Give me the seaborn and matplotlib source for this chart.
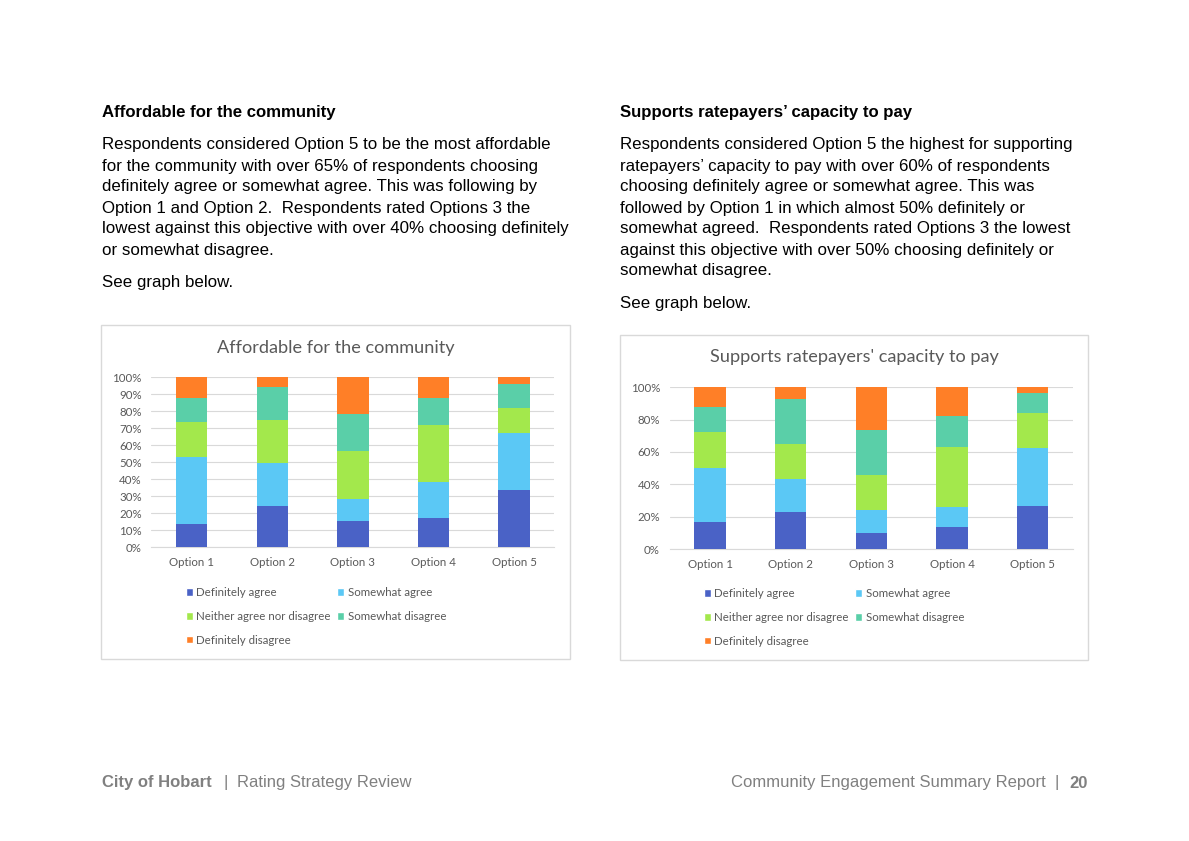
import numpy as np
import matplotlib
matplotlib.use('Agg')
import matplotlib.pyplot as plt
from matplotlib.patches import Rectangle, Patch
import seaborn as sns

# ───────────────────────────────────────────────
# Data (percent of respondents)
# ───────────────────────────────────────────────
options = ['Option 1', 'Option 2', 'Option 3', 'Option 4', 'Option 5']
responses = ['Definitely agree', 'Somewhat agree', 'Neither agree nor disagree',
             'Somewhat disagree', 'Definitely disagree']
colors = ['#4A62C6', '#5BC8F5', '#A3E84C', '#5ACFA8', '#FF7F27']

# Affordable for the community
aff_def_agree = [13.5, 24.3, 15.5, 17.1, 33.7]
aff_some_agree = [39.4, 25.5, 12.7, 21.1, 33.8]
aff_neither = [21.0, 25.1, 28.7, 33.6, 14.5]
aff_some_dis = [13.7, 19.6, 21.3, 15.8, 14.1]
aff_def_dis = [12.4, 5.5, 21.8, 12.4, 3.9]

# Supports ratepayers' capacity to pay
cap_def_agree = [16.9, 22.9, 10.1, 13.8, 26.4]
cap_some_agree = [33.0, 20.6, 14.2, 12.4, 36.1]
cap_neither = [22.5, 21.4, 21.3, 37.1, 21.4]
cap_some_dis = [15.4, 28.1, 28.0, 19.0, 12.4]
cap_def_dis = [12.2, 7.0, 26.4, 17.7, 3.7]

left_heading = 'Affordable for the community'
left_lines = [
    'Respondents considered Option 5 to be the most affordable',
    'for the community with over 65% of respondents choosing',
    'definitely agree or somewhat agree. This was following by',
    'Option 1 and Option 2.  Respondents rated Options 3 the',
    'lowest against this objective with over 40% choosing definitely',
    'or somewhat disagree.',
]
right_heading = 'Supports ratepayers\u2019 capacity to pay'
right_lines = [
    'Respondents considered Option 5 the highest for supporting',
    'ratepayers\u2019 capacity to pay with over 60% of respondents',
    'choosing definitely agree or somewhat agree. This was',
    'followed by Option 1 in which almost 50% definitely or',
    'somewhat agreed.  Respondents rated Options 3 the lowest',
    'against this objective with over 50% choosing definitely or',
    'somewhat disagree.',
]

# ───────────────────────────────────────────────
# Figure setup
# ───────────────────────────────────────────────
sns.set_style('white')
plt.rcParams['font.family'] = ['Liberation Sans', 'DejaVu Sans']

W, H = 1189, 841
fig = plt.figure(figsize=(W / 100, H / 100), dpi=100)
fig.patch.set_facecolor('white')


def fx(px):
    return px / W


def fy(py):
    return 1 - py / H


body_size = 12.15
text_col = '#000000'

# Body text blocks
def text_block(x, heading, lines, y0):
    fig.text(fx(x), fy(113), heading, fontsize=body_size - 0.1, fontweight='bold',
             color=text_col, va='center')
    for i, ln in enumerate(lines):
        fig.text(fx(x), fy(y0 + 21 * i), ln, fontsize=body_size, color=text_col, va='center')
    fig.text(fx(x), fy(y0 + 21 * len(lines) + 12), 'See graph below.',
             fontsize=body_size, color=text_col, va='center')


text_block(102, left_heading, left_lines, 145)
text_block(620, right_heading, right_lines, 145)

# ───────────────────────────────────────────────
# Charts
# ───────────────────────────────────────────────
chart_font = ['Lato', 'DejaVu Sans']
grey = '#595959'
grid_col = '#D9D9D9'
tick_size = 8.3


def stacked_chart(ax_rect, box, title, title_y, layers, step, legend_pos):
    # outer chart frame
    bx0, by0, bx1, by1 = box
    fig.patches.append(Rectangle((fx(bx0), fy(by1)), fx(bx1 - bx0), (by1 - by0) / H,
                                 transform=fig.transFigure, fill=False,
                                 edgecolor=grid_col, linewidth=1.0))
    fig.text(fx((bx0 + bx1) / 2), fy(title_y), title, ha='center', va='center',
             fontsize=13.1, color=grey, family=chart_font)

    ax = fig.add_axes(ax_rect)
    cum = np.cumsum(np.array(layers), axis=0)
    # draw tallest (cumulative) layer first so lower layers sit on top
    for k in range(len(layers) - 1, -1, -1):
        sns.barplot(x=options, y=cum[k], color=colors[k], saturation=1,
                    width=0.39, ax=ax, zorder=3, edgecolor='none')
    ax.set_ylim(0, 100)
    ax.set_xlim(-0.5, 4.5)
    ax.set_yticks(np.arange(0, 101, step))
    ax.set_yticklabels([f'{v}%' for v in range(0, 101, step)])
    ax.yaxis.grid(True, color=grid_col, linewidth=0.8, zorder=0)
    ax.set_axisbelow(True)
    for s in ['top', 'right', 'left']:
        ax.spines[s].set_visible(False)
    ax.spines['bottom'].set_color(grid_col)
    ax.spines['bottom'].set_linewidth(0.8)
    ax.tick_params(axis='both', length=0, labelsize=tick_size, labelcolor=grey, pad=7)
    for lab in ax.get_xticklabels() + ax.get_yticklabels():
        lab.set_family(chart_font)
    ax.set_xlabel('')
    ax.set_ylabel('')

    # legend (Excel row-major order -> column-major reorder)
    handles = [Patch(facecolor=c, label=r) for c, r in zip(colors, responses)]
    order = [0, 2, 4, 1, 3]
    fig.legend([handles[i] for i in order], [responses[i] for i in order],
               ncol=2, loc='upper left',
               bbox_to_anchor=(fx(legend_pos[0]), fy(legend_pos[1])),
               frameon=False, handlelength=0.6, handleheight=0.6,
               handletextpad=0.3, columnspacing=0.55, labelspacing=1.12,
               borderaxespad=0, borderpad=0,
               prop={'family': chart_font, 'size': tick_size}, labelcolor=grey)
    return ax


stacked_chart([fx(151.4), fy(547.3), fx(403), 170 / H], (101, 325, 570, 659),
              'Affordable for the community', 348,
              [aff_def_agree, aff_some_agree, aff_neither, aff_some_dis, aff_def_dis],
              10, (186, 587))

stacked_chart([fx(669.7), fy(549), fx(403.3), 161.7 / H], (620, 335, 1088, 660),
              "Supports ratepayers' capacity to pay", 357,
              [cap_def_agree, cap_some_agree, cap_neither, cap_some_dis, cap_def_dis],
              20, (704, 588))

# ───────────────────────────────────────────────
# Footer
# ───────────────────────────────────────────────
foot_col = '#808080'
foot_size = 12
fy_foot = fy(783)
fig.text(fx(102), fy_foot, 'City of Hobart', fontsize=foot_size, fontweight='bold',
         color=foot_col, va='center')
fig.text(fx(226), fy_foot, '|', fontsize=foot_size, color=foot_col, va='center', ha='center')
fig.text(fx(237), fy_foot, 'Rating Strategy Review', fontsize=foot_size,
         color=foot_col, va='center')
fig.text(fx(1088), fy_foot, '20', fontsize=foot_size, fontweight='bold',
         color=foot_col, va='center', ha='right')
fig.text(fx(1057), fy_foot, '|', fontsize=foot_size, color=foot_col, va='center', ha='center')
fig.text(fx(1046), fy_foot, 'Community Engagement Summary Report', fontsize=foot_size,
         color=foot_col, va='center', ha='right')

fig.savefig('out.png', dpi=100)
